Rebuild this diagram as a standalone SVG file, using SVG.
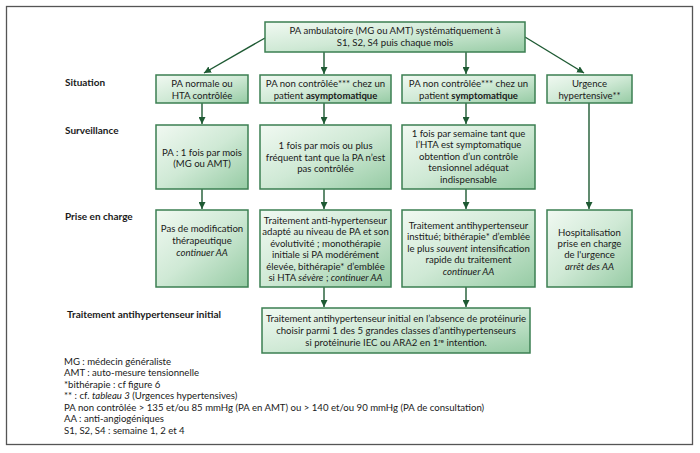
<svg xmlns="http://www.w3.org/2000/svg" width="700" height="453" viewBox="0 0 700 453">
<defs>
<linearGradient id="g" x1="0" y1="0" x2="1" y2="1">
<stop offset="0" stop-color="#f1f9f2"/>
<stop offset="0.5" stop-color="#cfe9d5"/>
<stop offset="1" stop-color="#96cba4"/>
</linearGradient>
<marker id="ah" viewBox="0 0 10 10" refX="10" refY="5" markerWidth="7" markerHeight="7" markerUnits="userSpaceOnUse" orient="auto">
<path d="M0,0 L10,5 L0,10 z" fill="#1e5a33"/>
</marker>
<style>
.box{fill:url(#g);stroke:#3b7f52;stroke-width:1.5}
text{font-family:Lato,"Liberation Sans",sans-serif;font-size:9.6px;fill:#1a1a1a}
.c{text-anchor:middle}
.lab{font-weight:bold;font-size:10px}
.b{font-weight:bold}
.i{font-style:italic}
.ar{stroke:#1e5a33;stroke-width:1.4;fill:none;marker-end:url(#ah)}
</style>
</defs>
<rect width="700" height="453" fill="#ffffff"/>
<rect x="6.5" y="6.5" width="686" height="438" fill="none" stroke="#555555" stroke-width="1.3"/>

<g id="labels">
<text class="lab" x="65" y="86">Situation</text>
<text class="lab" x="65" y="134">Surveillance</text>
<text class="lab" x="65" y="220">Prise en charge</text>
<text class="lab" x="67" y="318">Traitement antihypertenseur initial</text>
</g>

<g id="connectors">
<line class="ar" x1="265" y1="38" x2="204" y2="73"/>
<line class="ar" x1="324" y1="52" x2="324" y2="74"/>
<line class="ar" x1="466" y1="52" x2="466" y2="74"/>
<line class="ar" x1="525" y1="37" x2="584" y2="73"/>
<line class="ar" x1="202" y1="103" x2="202" y2="124"/>
<line class="ar" x1="324" y1="103" x2="324" y2="124"/>
<line class="ar" x1="466" y1="103" x2="466" y2="124"/>
<line class="ar" x1="202" y1="189" x2="202" y2="209"/>
<line class="ar" x1="324" y1="189" x2="324" y2="209"/>
<line class="ar" x1="466" y1="189" x2="466" y2="209"/>
<line class="ar" x1="589" y1="103" x2="589" y2="209" stroke="#4f7f5e" stroke-width="2"/>
<line class="ar" x1="324" y1="287" x2="324" y2="307"/>
<line class="ar" x1="466" y1="287" x2="466" y2="307"/>
</g>

<g id="top">
<rect class="box" x="265" y="22" width="260" height="30"/>
<text class="c" x="395" y="34">PA ambulatoire (MG ou AMT) systématiquement à</text>
<text class="c" x="395" y="46">S1,  S2, S4 puis chaque mois</text>
</g>

<g id="sit-normale">
<rect class="box" x="156" y="75" width="92" height="28"/>
<text class="c" x="202" y="87">PA normale ou</text>
<text class="c" x="202" y="99">HTA contrôlée</text>
</g>
<g id="sit-asympto">
<rect class="box" x="260" y="75" width="131" height="28"/>
<text class="c" x="325.5" y="87">PA non contrôlée*** chez un</text>
<text class="c" x="325.5" y="99">patient <tspan class="b">asymptomatique</tspan></text>
</g>
<g id="sit-sympto">
<rect class="box" x="402" y="75" width="133" height="28"/>
<text class="c" x="468.5" y="87">PA non contrôlée*** chez un</text>
<text class="c" x="468.5" y="99">patient <tspan class="b">symptomatique</tspan></text>
</g>
<g id="sit-urgence">
<rect class="box" x="547" y="75" width="85" height="28"/>
<text class="c" x="589.5" y="87">Urgence</text>
<text class="c" x="589.5" y="99">hypertensive**</text>
</g>

<g id="surv-normale">
<rect class="box" x="156" y="125" width="92" height="64"/>
<text class="c" x="202" y="155.5">PA  : 1 fois par mois</text>
<text class="c" x="202" y="167">(MG ou AMT)</text>
</g>
<g id="surv-asympto">
<rect class="box" x="260" y="125" width="131" height="64"/>
<text class="c" x="325.5" y="149">1 fois  par mois ou plus</text>
<text class="c" x="325.5" y="160.5">fréquent tant que la PA n’est</text>
<text class="c" x="325.5" y="172">pas contrôlée</text>
</g>
<g id="surv-sympto">
<rect class="box" x="402" y="125" width="133" height="64"/>
<text class="c" x="468.5" y="136.5">1 fois par semaine tant que</text>
<text class="c" x="468.5" y="148">l’HTA est symptomatique</text>
<text class="c" x="468.5" y="159.5">obtention d’un contrôle</text>
<text class="c" x="468.5" y="171">tensionnel adéquat</text>
<text class="c" x="468.5" y="182.5">indispensable</text>
</g>

<g id="pec-normale">
<rect class="box" x="156" y="210" width="92" height="77"/>
<text class="c" x="202" y="231.5">Pas de modification</text>
<text class="c" x="202" y="243.5">thérapeutique</text>
<text class="c i" x="202" y="255.5">continuer AA</text>
</g>
<g id="pec-asympto">
<rect class="box" x="260" y="210" width="131" height="77"/>
<text class="c" x="325.5" y="223.5">Traitement anti-hypertenseur</text>
<text class="c" x="325.5" y="235">adapté au niveau de PA et son</text>
<text class="c" x="325.5" y="246.5">évolutivité ; monothérapie</text>
<text class="c" x="325.5" y="258">initiale si PA modérément</text>
<text class="c" x="325.5" y="269.5">élevée, bithérapie* d’emblée</text>
<text class="c" x="325.5" y="281">si HTA <tspan class="i">sévère</tspan> ; <tspan class="i">continuer AA</tspan></text>
</g>
<g id="pec-sympto">
<rect class="box" x="402" y="210" width="133" height="77"/>
<text class="c" x="468.5" y="228.5">Traitement antihypertenseur</text>
<text class="c" x="468.5" y="240">institué; bithérapie* d’emblée</text>
<text class="c" x="468.5" y="251.5">le plus <tspan class="i">souvent</tspan> intensification</text>
<text class="c" x="468.5" y="263">rapide du traitement</text>
<text class="c i" x="468.5" y="274.5">continuer AA</text>
</g>
<g id="pec-urgence">
<rect class="box" x="547" y="210" width="85" height="77"/>
<text class="c" x="589.5" y="235.5">Hospitalisation</text>
<text class="c" x="589.5" y="246.5">prise en charge</text>
<text class="c" x="589.5" y="258">de l'urgence</text>
<text class="c i" x="589.5" y="269.5">arrêt des AA</text>
</g>

<g id="traitement-initial">
<rect class="box" x="262" y="308" width="268" height="45"/>
<text class="c" x="396" y="321.5">Traitement antihypertenseur initial en l’absence de protéinurie</text>
<text class="c" x="396" y="333.5">choisir parmi 1 des 5 grandes classes d’antihypertenseurs</text>
<text class="c" x="396" y="345.5">si protéinurie IEC ou ARA2 en 1<tspan font-size="6.5" dy="-3">re</tspan><tspan dy="3"> intention.</tspan></text>
</g>

<g id="legend">
<text x="64" y="364.5">MG : médecin généraliste</text>
<text x="64" y="376">AMT : auto-mesure tensionnelle</text>
<text x="64" y="387.5">*bithérapie : cf figure 6</text>
<text x="64" y="399">** : cf. <tspan class="i">tableau 3</tspan> (Urgences hypertensives)</text>
<text x="64" y="410.5">PA non contrôlée &gt; 135 et/ou 85 mmHg (PA en AMT) ou &gt; 140 et/ou 90 mmHg (PA de consultation)</text>
<text x="64" y="422">AA : anti-angiogéniques</text>
<text x="64" y="433.5">S1, S2, S4 : semaine 1, 2 et 4</text>
</g>
</svg>
